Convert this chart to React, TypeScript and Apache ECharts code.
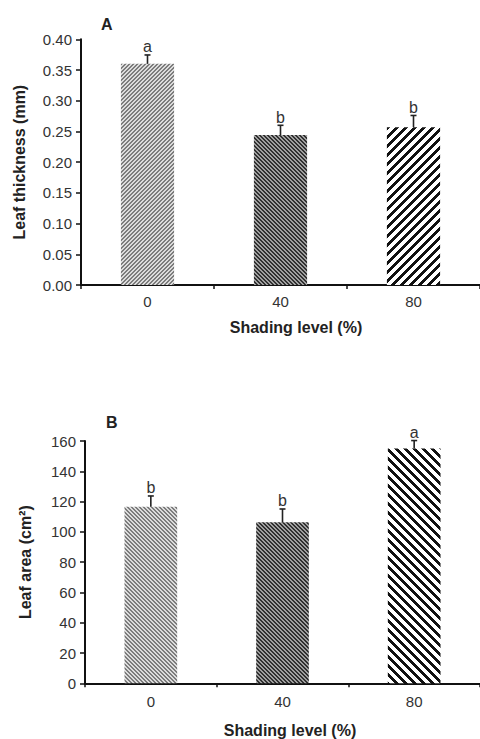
import React, { useEffect, useRef } from 'react';
import * as echarts from 'echarts';

// ---- Data ----
const categories = ['0', '40', '80'];

const thicknessMeans = [0.36, 0.244, 0.257];
const thicknessErrors = [0.0145, 0.016, 0.019];
const thicknessLetters = ['a', 'b', 'b'];

const areaMeans = [116.6, 106.3, 155];
const areaErrors = [7.1, 8.8, 5.3];
const areaLetters = ['b', 'b', 'a'];

const FONT = '"Liberation Sans", Arial, Helvetica, sans-serif';

function stripe(period: number, width: number, dir: '/' | '\\', dark: string, light: string) {
  const c = document.createElement('canvas');
  c.width = period;
  c.height = period;
  const ctx = c.getContext('2d')!;
  ctx.fillStyle = light;
  ctx.fillRect(0, 0, period, period);
  ctx.fillStyle = dark;
  for (let y = 0; y < period; y++) {
    for (let x = 0; x < period; x++) {
      const k = dir === '/' ? (x + y) % period : (((x - y) % period) + period) % period;
      if (k < width) ctx.fillRect(x, y, 1, 1);
    }
  }
  return { image: c, repeat: 'repeat', imageWidth: period, imageHeight: period } as any;
}

export default function App() {
  const ref = useRef<HTMLDivElement>(null);

  useEffect(() => {
    document.body.style.margin = '0';
    if (!ref.current) return;
    const chart = echarts.init(ref.current, null, { renderer: 'svg' });

    const patternsA = [
      stripe(4, 2, '/', '#7c7c7c', '#dcdcdc'),
      stripe(4, 2, '\\', '#303030', '#a0a0a0'),
      stripe(9, 4, '/', '#111111', '#ffffff'),
    ];
    const patternsB = [
      stripe(4, 2, '\\', '#7c7c7c', '#dcdcdc'),
      stripe(4, 2, '\\', '#303030', '#a0a0a0'),
      stripe(9, 4, '\\', '#111111', '#ffffff'),
    ];

    const axisLine = { show: true, lineStyle: { color: '#111', width: 2 } };
    const labelStyle = { fontFamily: FONT, fontSize: 15, color: '#333' };
    const nameStyle = { fontFamily: FONT, fontSize: 16, fontWeight: 'bold' as const, color: '#222' };

    const errorSeries = (idx: number, means: number[], errs: number[], letters: string[]) => ({
      type: 'custom',
      xAxisIndex: idx,
      yAxisIndex: idx,
      z: 5,
      silent: true,
      data: means.map((m, i) => [i, m, m + errs[i]]),
      renderItem: (params: any, api: any) => {
        const x = api.value(0);
        const base = api.coord([x, api.value(1)]);
        const top = api.coord([x, api.value(2)]);
        const stroke = { stroke: '#222', lineWidth: 1.6 };
        return {
          type: 'group',
          children: [
            { type: 'line', shape: { x1: base[0], y1: base[1], x2: top[0], y2: top[1] }, style: stroke },
            { type: 'line', shape: { x1: top[0] - 3, y1: top[1], x2: top[0] + 3, y2: top[1] }, style: stroke },
            {
              type: 'text',
              x: top[0],
              y: top[1] - 8,
              style: {
                text: letters[params.dataIndex],
                fill: '#333',
                fontSize: 16,
                fontFamily: FONT,
                align: 'center',
                verticalAlign: 'middle',
              },
            },
          ],
        };
      },
    });

    chart.setOption({
      animation: false,
      backgroundColor: '#ffffff',
      grid: [
        { left: 81, top: 39.3, width: 399, height: 245.7 },
        { left: 85, top: 441, width: 400.5, height: 242.3 },
      ],
      xAxis: [0, 1].map((i) => ({
        type: 'category',
        gridIndex: i,
        data: categories,
        axisLine,
        axisTick: { show: true, length: 4, lineStyle: { color: '#111', width: 1.5 } },
        axisLabel: { ...labelStyle, margin: i === 0 ? 9 : 11 },
        splitLine: { show: false },
      })),
      yAxis: [
        {
          type: 'value',
          gridIndex: 0,
          min: 0,
          max: 0.4,
          interval: 0.05,
          name: 'Leaf thickness (mm)',
          nameLocation: 'middle',
          nameGap: 54,
          nameTextStyle: nameStyle,
          axisLine,
          axisTick: { show: true, length: 5, lineStyle: { color: '#111', width: 1.5 } },
          axisLabel: { ...labelStyle, margin: 9, formatter: (v: number) => v.toFixed(2) },
          splitLine: { show: false },
        },
        {
          type: 'value',
          gridIndex: 1,
          min: 0,
          max: 160,
          interval: 20,
          name: 'Leaf area (cm²)',
          nameLocation: 'middle',
          nameGap: 52,
          nameTextStyle: nameStyle,
          axisLine,
          axisTick: { show: true, length: 5, lineStyle: { color: '#111', width: 1.5 } },
          axisLabel: { ...labelStyle, margin: 9 },
          splitLine: { show: false },
        },
      ],
      series: [
        {
          type: 'bar',
          xAxisIndex: 0,
          yAxisIndex: 0,
          barWidth: '40%',
          silent: true,
          data: thicknessMeans.map((v, i) => ({ value: v, itemStyle: { color: patternsA[i] } })),
        },
        {
          type: 'bar',
          xAxisIndex: 1,
          yAxisIndex: 1,
          barWidth: '40%',
          silent: true,
          data: areaMeans.map((v, i) => ({ value: v, itemStyle: { color: patternsB[i] } })),
        },
        errorSeries(0, thicknessMeans, thicknessErrors, thicknessLetters),
        errorSeries(1, areaMeans, areaErrors, areaLetters),
      ],
      graphic: [
        { type: 'text', left: 101, top: 16, style: { text: 'A', fontSize: 16, fontWeight: 'bold', fontFamily: FONT, fill: '#222' } },
        { type: 'text', left: 106, top: 414, style: { text: 'B', fontSize: 16, fontWeight: 'bold', fontFamily: FONT, fill: '#222' } },
        {
          type: 'text',
          x: 296,
          y: 327,
          style: { text: 'Shading level (%)', fontSize: 16, fontWeight: 'bold', fontFamily: FONT, fill: '#222', align: 'center', verticalAlign: 'middle' },
        },
        {
          type: 'text',
          x: 290,
          y: 730,
          style: { text: 'Shading level (%)', fontSize: 16, fontWeight: 'bold', fontFamily: FONT, fill: '#222', align: 'center', verticalAlign: 'middle' },
        },
      ],
    });

    return () => chart.dispose();
  }, []);

  return <div ref={ref} style={{ width: 480, height: 739 }} />;
}
